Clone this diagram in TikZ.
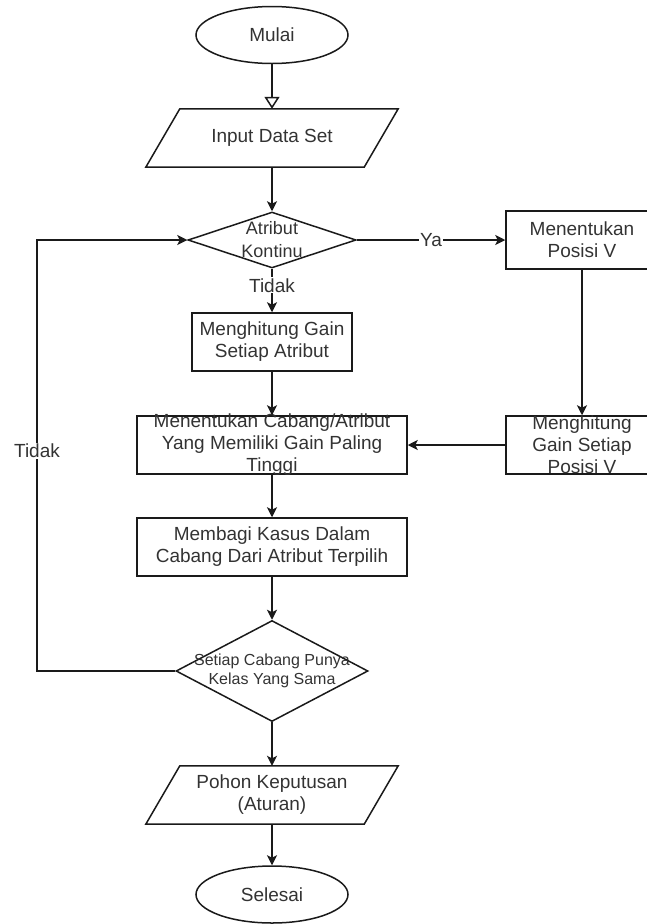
\documentclass[tikz,border=0pt]{standalone}
\usepackage{fontspec}
\setmainfont{Liberation Sans}
\usetikzlibrary{shapes.geometric, arrows.meta}

\definecolor{lc}{HTML}{1A1A1A}
\definecolor{tc}{HTML}{333333}

\tikzset{
  shapeline/.style={draw=lc, line width=1.5pt},
  txt/.style={text=tc, align=center, inner sep=0pt, font=\fontsize{19}{22}\selectfont},
  smalltxt/.style={txt, font=\fontsize{18}{23}\selectfont},
  tinytxt/.style={txt, font=\fontsize{16}{18.5}\selectfont},
  startstop/.style={shapeline, ellipse, minimum width=152pt, minimum height=57pt, inner sep=0pt},
  process/.style={shapeline, rectangle, minimum height=58pt, inner sep=0pt},
  decision/.style={shapeline, diamond, inner sep=0pt},
  iobox/.style={rectangle, minimum width=218pt, minimum height=58pt, inner sep=0pt},
  flow/.style={draw=lc, line width=1.5pt, -{Stealth[length=10pt, width=10pt, inset=2.5pt]}},
  openflow/.style={draw=lc, line width=1.5pt, -{Triangle[open, length=12pt, width=15pt]}},
  edgelabel/.style={txt, fill=white, inner sep=1pt},
}

\begin{document}
\begin{tikzpicture}[x=1pt, y=-1pt]
  \useasboundingbox (0,0) rectangle (647,924);
  \clip (0,0) rectangle (647,924);

  % terminals
  \node[startstop, label={[txt]center:Mulai}] (start) at (272,35) {};
  \node[startstop, label={[txt]center:Selesai}] (stop) at (272,894.5) {};

  % input / output parallelograms
  \node[iobox, label={[txt]center:Input Data Set}] (input) at (272,138) {};
  \draw[shapeline] ([xshift=-17pt]input.south west) -- ([xshift=17pt]input.north west)
    -- ([xshift=17pt]input.north east) -- ([xshift=-17pt]input.south east) -- cycle;

  \node[iobox, label={[txt]center:Pohon Keputusan\\(Aturan)}] (output) at (272,795) {};
  \draw[shapeline] ([xshift=-17pt]output.south west) -- ([xshift=17pt]output.north west)
    -- ([xshift=17pt]output.north east) -- ([xshift=-17pt]output.south east) -- cycle;

  % decisions
  \node[decision, minimum width=168pt, minimum height=56pt,
        label={[smalltxt]center:Atribut\\Kontinu}] (cont) at (272,240) {};
  \node[decision, minimum width=192pt, minimum height=101pt,
        label={[tinytxt]center:Setiap Cabang Punya\\Kelas Yang Sama}] (same) at (272,671) {};

  % processes
  \node[process, minimum width=152pt, label={[txt]center:Menentukan\\Posisi V}] (posv) at (582,240) {};
  \node[process, minimum width=152pt, label={[txt]center:Menghitung\\Gain Setiap\\Posisi V}] (gainv) at (582,445) {};
  \node[process, minimum width=160pt, label={[txt]center:Menghitung Gain\\Setiap Atribut}] (gainatr) at (272,342) {};
  \node[process, minimum width=270pt, label={[txt]center:Menentukan Cabang/Atribut\\Yang Memiliki Gain Paling\\Tinggi}] (best) at (272,445) {};
  \node[process, minimum width=270pt, label={[txt]center:Membagi Kasus Dalam\\Cabang Dari Atribut Terpilih}] (split) at (272,547) {};

  % loop-back route
  \coordinate (loopbot) at (37,671);
  \coordinate (looptop) at (37,240);

  % connectors
  \draw[openflow] (start.south) -- (input.north);
  \draw[flow] (input.south) -- (cont.north);
  \draw[flow] (cont.east) -- node[edgelabel] {Ya} (posv.west);
  \draw[flow] (cont.south) -- node[edgelabel, pos=0.38] {Tidak} (gainatr.north);
  \draw[flow] (gainatr.south) -- (best.north);
  \draw[flow] (posv.south) -- (gainv.north);
  \draw[flow] (gainv.west) -- (best.east);
  \draw[flow] (best.south) -- (split.north);
  \draw[flow] (split.south) -- (same.north);
  \draw[flow] (same.west) -- (loopbot) -- node[edgelabel, pos=0.51] {Tidak} (looptop) -- (cont.west);
  \draw[flow] (same.south) -- (output.north);
  \draw[flow] (output.south) -- (stop.north);
\end{tikzpicture}
\end{document}
